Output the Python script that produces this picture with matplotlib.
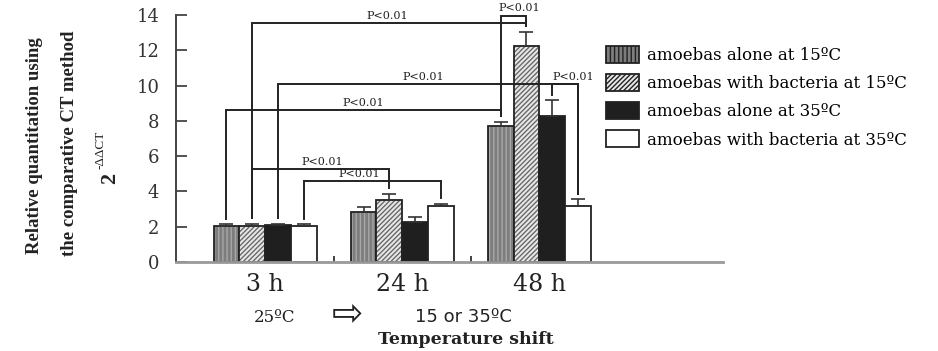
import matplotlib
matplotlib.use("Agg")
import matplotlib.pyplot as plt
from matplotlib.patches import Patch

# Data
groups = ["3 h", "24 h", "48 h"]
series = ["amoebas alone at 15ºC",
          "amoebas with bacteria at 15ºC",
          "amoebas alone at 35ºC",
          "amoebas with bacteria at 35ºC"]
values = [[2.06, 2.85, 7.71],
          [2.05, 3.53, 12.26],
          [2.07, 2.29, 8.29],
          [2.03, 3.16, 3.16]]
errors = [[0.10, 0.25, 0.24],
          [0.12, 0.34, 0.79],
          [0.10, 0.26, 0.89],
          [0.12, 0.14, 0.39]]

# significance brackets: (group, series, group, series, level, label x)
brackets = [(0, 1, 2, 1, 13.53, 0.89),
            (2, 0, 2, 1, 13.97, 1.85),
            (0, 2, 2, 3, 10.07, 1.15),
            (2, 2, 2, 3, 10.07, 2.25),
            (0, 0, 2, 0, 8.62, 0.715),
            (0, 1, 1, 1, 5.27, 0.42),
            (0, 3, 1, 3, 4.61, 0.69)]
p_label = "P<0.01"

# Styles
W = 0.188
FACES = ["#7d7d7d", "#e8e8e8", "#1f1f1f", "white"]
HATCHES = ["||||", "///////", None, None]
HATCH_COL = ["#a8a8a8", "#6a6a6a", "#1f1f1f", "white"]
EDGE = "#222222"


def xpos(g, s):
    return g + (s - 1.5) * W


fig = plt.figure(figsize=(9.38, 3.51), dpi=100)
ax = fig.add_axes([176 / 938, 1 - 262 / 351, 547 / 938, 247 / 351])

for s in range(4):
    xs = [xpos(g, s) for g in range(3)]
    bars = ax.bar(xs, values[s], width=W, facecolor=FACES[s], edgecolor=EDGE,
                  linewidth=1.3, hatch=HATCHES[s], zorder=2)
    for b in bars:
        b._hatch_color = matplotlib.colors.to_rgba(HATCH_COL[s])
    ax.errorbar(xs, values[s], yerr=[[0, 0, 0], errors[s]], fmt="none",
                ecolor="#333333", elinewidth=1.2, capsize=5, capthick=1.2, zorder=3)

for g1, s1, g2, s2, lev, lx in brackets:
    x1, x2 = xpos(g1, s1), xpos(g2, s2)
    y1 = values[s1][g1] + errors[s1][g1] + 0.3
    y2 = values[s2][g2] + errors[s2][g2] + 0.3
    ax.plot([x1, x1, x2, x2], [y1, lev, lev, y2], color="#222222", lw=1.4,
            solid_joinstyle="miter", zorder=4, clip_on=False)
    ax.text(lx, lev + 0.12, p_label, ha="center", va="bottom",
            family="DejaVu Serif", fontsize=8, color="#222222")

ax.set_xlim(-0.65, 3.34)
ax.set_ylim(0, 14)
ax.set_yticks(range(0, 15, 2))
ax.set_xticks(range(3))
ax.set_xticklabels(groups, family="DejaVu Serif", fontsize=17, color="#222222")
ax.set_xticks([0.5, 1.5], minor=True)
ax.tick_params(axis="x", which="major", length=0, pad=8)
ax.tick_params(axis="x", which="minor", direction="in", length=4, width=1.3, color="#333333")
ax.tick_params(axis="y", direction="in", length=8, width=1.3, color="#444444",
               labelsize=13, pad=12)
for lab in ax.get_yticklabels():
    lab.set_family("DejaVu Serif")
    lab.set_color("#333333")
for sp in ["top", "right"]:
    ax.spines[sp].set_visible(False)
ax.spines["left"].set_color("#444444")
ax.spines["left"].set_linewidth(1.4)
ax.spines["bottom"].set_color("#999999")
ax.spines["bottom"].set_linewidth(2)

handles = [Patch(facecolor=FACES[s], edgecolor=EDGE, hatch=HATCHES[s], linewidth=1.3)
           for s in range(4)]
leg = ax.legend(handles, series, loc="upper left", bbox_to_anchor=(0.786, 0.875),
                frameon=False, prop={"family": "DejaVu Serif", "size": 12},
                handlelength=2.0, handleheight=1.2, handletextpad=0.45,
                labelspacing=0.6, borderpad=0, borderaxespad=0)

# y label
yl = dict(rotation=90, ha="center", va="center", family="Liberation Serif",
          weight="bold", fontsize=13.5, color="#222222")
fig.text(35 / 938, 1 - 146 / 351, "Relative quantitation using", **yl)
fig.text(70 / 938, 1 - 143 / 351, "the comparative CT method", **yl)
fig.text(110 / 938, 1 - 178 / 351, "2", rotation=90, ha="center", va="center",
         family="Liberation Serif", weight="bold", fontsize=16, color="#222222")
fig.text(100 / 938, 1 - 150 / 351, "-ΔΔCT", rotation=90, ha="center", va="center",
         family="Liberation Serif", fontsize=9.5, color="#222222")

# x label rows
fig.text(275 / 938, 1 - 317 / 351, "25ºC", ha="center", va="center",
         family="DejaVu Serif", fontsize=12, color="#222222")
fig.text(347 / 938, 1 - 315 / 351, "⇨", ha="center", va="center",
         family="DejaVu Sans", fontsize=27, color="#222222")
fig.text(463 / 938, 1 - 317 / 351, "15 or 35ºC", ha="center", va="center",
         family="DejaVu Sans", fontsize=13, color="#222222")
fig.text(466 / 938, 1 - 339 / 351, "Temperature shift", ha="center", va="center",
         family="DejaVu Serif", weight="bold", fontsize=12.5, color="#222222")

fig.savefig("out.png", dpi=100)
